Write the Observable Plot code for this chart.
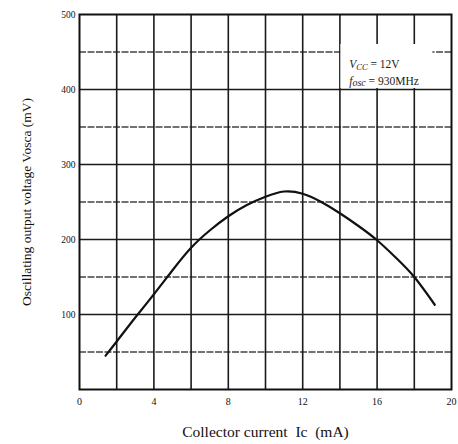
<!DOCTYPE html>
<html><head>
<meta charset="utf-8">
<script src="https://cdn.jsdelivr.net/npm/d3@7"></script>
<script src="https://cdn.jsdelivr.net/npm/@observablehq/plot@0.6"></script>
<style>body{margin:0;background:#fff;} svg{font-family:"Liberation Serif","DejaVu Serif",serif;}</style>
</head><body><div id="chart"></div>
<script>
// Curve
const currentMA = [1.4, 2, 3, 4, 5, 6, 7, 8, 9, 10, 11, 12, 13, 14, 15, 16, 17, 18, 19.1];
const voltageMV = [45, 64, 96, 127, 159, 189, 212, 231, 246, 257, 264, 261, 250, 235, 218, 199, 176, 150, 113];
// Axes
const xTicks = [0, 4, 8, 12, 16, 20];
const yTicks = [100, 200, 300, 400, 500];
const xGridLines = [2, 4, 6, 8, 10, 12, 14, 16, 18];
const yMajorLines = [100, 200, 300, 400];
const yMinorLines = [50, 150, 250, 350, 450];
// Conditions box
const boxX = [14, 19.0];
const boxY = [400, 460];
const noteX = [14.5, 14.5];
const noteY = [434, 411];
const noteText = ["VCC = 12V", "fosc = 930MHz"];

const data = currentMA.map((x, i) => ({x, y: voltageMV[i]}));
const notes = noteText.map((t, i) => ({x: noteX[i], y: noteY[i], t}));

const plot = Plot.plot({
  width: 458, height: 444,
  marginLeft: 79, marginRight: 7, marginTop: 14, marginBottom: 55,
  style: {fontFamily: "Liberation Serif, serif", background: "#fff", color: "#111"},
  x: {domain: [0, 20]},
  y: {domain: [0, 500]},
  marks: [
    Plot.ruleY(yMinorLines, {stroke: "#444", strokeWidth: 1.3, strokeDasharray: "7,1.5"}),
    Plot.ruleY(yMajorLines, {stroke: "#1a1a1a", strokeWidth: 1.6}),
    Plot.ruleX(xGridLines, {stroke: "#1a1a1a", strokeWidth: 1.6}),
    Plot.rect([{x1: boxX[0], x2: boxX[1], y1: boxY[0], y2: boxY[1]}], {x1: "x1", x2: "x2", y1: "y1", y2: "y2", fill: "#fff", insetLeft: 1, insetBottom: 1}),
    Plot.text(notes, {x: "x", y: "y", text: "t", textAnchor: "start", fontSize: 11.5, fill: "#222"}),
    Plot.line(data, {x: "x", y: "y", curve: "natural", stroke: "#111", strokeWidth: 2.2}),
    Plot.frame({stroke: "#111", strokeWidth: 2}),
    Plot.axisX({ticks: xTicks, tickSize: 0, tickPadding: 8, fontSize: 10, label: "Collector current  Ic  (mA)", labelAnchor: "center", labelOffset: 47, labelArrow: "none"}),
    Plot.axisY({ticks: yTicks, tickSize: 0, tickPadding: 4, fontSize: 9.5, label: "Oscillating output voltage Vosca (mV)", labelAnchor: "center", labelOffset: 58, labelArrow: "none"})
  ]
});

// Italic variables and subscripts in the condition text
d3.select(plot).selectAll("text").each(function() {
  const el = d3.select(this);
  const s = el.text();
  if (s === "VCC = 12V") {
    el.text("");
    el.append("tspan").attr("font-style", "italic").text("V");
    el.append("tspan").attr("font-style", "italic").attr("font-size", 8.5).attr("dy", 2).text("CC");
    el.append("tspan").attr("dy", -2).text(" = 12V");
  } else if (s === "fosc = 930MHz") {
    el.text("");
    el.append("tspan").attr("font-style", "italic").text("f");
    el.append("tspan").attr("font-style", "italic").attr("font-size", 10).attr("dy", 1).text("osc");
    el.append("tspan").attr("dy", -1).text(" = 930MHz");
  }
});
d3.select(plot).selectAll("g[aria-label='x-axis label']").attr("font-size", 15.5);
d3.select(plot).selectAll("g[aria-label='y-axis label']").attr("font-size", 13.5);
document.getElementById("chart").append(plot);
</script>
</body></html>
